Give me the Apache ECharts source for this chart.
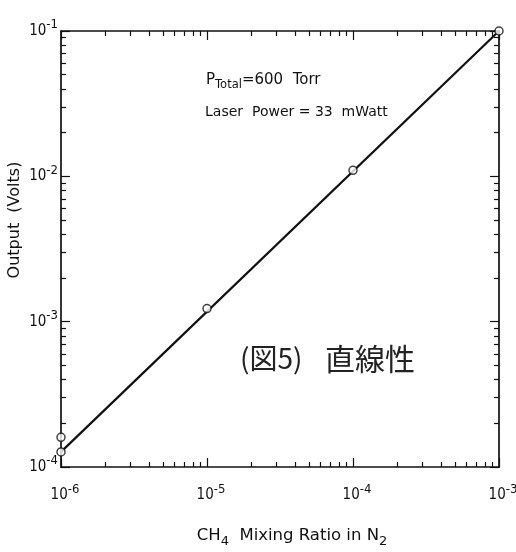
<!DOCTYPE html>
<html><head><meta charset="utf-8">
<script src="https://cdn.jsdelivr.net/npm/echarts@6/dist/echarts.min.js"></script>
<style>html,body{margin:0;padding:0;background:#fff}#c{width:516px;height:552px}</style>
</head><body><div id="c"></div>
<script>
// ---- data ----
const xDecades = [1e-6, 1e-5, 1e-4, 1e-3];
const yDecades = [1e-4, 1e-3, 1e-2, 1e-1];
const minorMultipliers = [2, 3, 4, 5, 6, 7, 8, 9];
const mixingRatio = [1e-6, 1e-6, 1e-5, 1e-4, 1e-3];
const outputVolts = [1.27e-4, 1.6e-4, 1.23e-3, 1.1e-2, 1.0e-1];
const fitX = [1e-6, 1e-3];
const fitY = [1.27e-4, 1.0e-1];
const yTitle = 'Output  (Volts)';
const note1 = ['P', 'Total', '=600  Torr'];
const note2 = 'Laser  Power = 33  mWatt';
const handNoteA = '(図5)';
const handNoteB = '直線性';

function minorOf(decades) {
  const out = [];
  for (let i = 0; i < decades.length - 1; i++)
    for (const m of minorMultipliers) out.push(decades[i] * m);
  return out;
}
const xMinor = minorOf(xDecades);
const yMinor = minorOf(yDecades);

const FONT = 'DejaVu Sans';
const NARROW = "'Liberation Sans Narrow', 'DejaVu Sans Condensed', 'Liberation Sans', sans-serif";
const INK = '#111';
function fmtPow(v) {
  const e = Math.round(Math.log10(v));
  return '{b|10}{s|' + e + '}';
}
const richLbl = {
  b: { fontSize: 15, fontFamily: NARROW, color: INK },
  s: { fontSize: 13, fontFamily: NARROW, color: INK, padding: [0, 0, 12, 0] }
};

function mkAxis(kind, pos, ticks, len, withLine, withLabel, decades) {
  const isX = kind === 'x';
  const ax = {
    type: 'log', logBase: 10, position: pos,
    min: isX ? xDecades[0] : yDecades[0],
    max: isX ? xDecades[xDecades.length - 1] : yDecades[yDecades.length - 1],
    splitLine: { show: false },
    axisLine: { show: withLine, lineStyle: { color: INK, width: 1.7 } },
    axisTick: { show: true, inside: true, length: len, customValues: ticks,
                lineStyle: { color: INK, width: 1.2 } },
    axisLabel: { show: false },
    axisPointer: { show: false }
  };
  if (withLabel) {
    ax.axisLabel = {
      show: true, customValues: decades, formatter: fmtPow, rich: richLbl,
      margin: isX ? 16 : 3,
      padding: isX ? [0, 0, 0, 8] : 0
    };
  }
  return ax;
}

const option = {
  backgroundColor: '#fff',
  animation: false,
  grid: { left: 61, right: 17, top: 31, bottom: 85, outerBoundsMode: 'none', containLabel: false },
  xAxis: [
    Object.assign(mkAxis('x', 'bottom', xDecades, 9, true, true, xDecades), {
      name: '{n|CH}{sub|4}{n|  Mixing Ratio in N}{sub|2}',
      nameLocation: 'middle', nameGap: 56, nameMoveOverlap: false,
      nameTextStyle: { padding: [0, 0, 0, 24], rich: {
        n: { fontSize: 16.5, fontFamily: FONT, color: INK },
        sub: { fontSize: 13, fontFamily: FONT, color: INK, padding: [12, 0, 0, 0] }
      } }
    }),
    mkAxis('x', 'bottom', xMinor, 5, false, false),
    mkAxis('x', 'top', xDecades, 9, true, false),
    mkAxis('x', 'top', xMinor, 5, false, false)
  ],
  yAxis: [
    Object.assign(mkAxis('y', 'left', yDecades, 9, true, true, yDecades), {
      name: yTitle, nameLocation: 'middle', nameGap: 38, nameMoveOverlap: false,
      nameTextStyle: { fontSize: 16, fontFamily: FONT, color: INK, padding: [0, 0, 0, 58] }
    }),
    mkAxis('y', 'left', yMinor, 5, false, false),
    mkAxis('y', 'right', yDecades, 9, true, false),
    mkAxis('y', 'right', yMinor, 5, false, false)
  ],
  series: [
    {
      type: 'line', xAxisIndex: 0, yAxisIndex: 0,
      data: fitX.map((x, i) => [x, fitY[i]]),
      showSymbol: false, lineStyle: { color: INK, width: 2.2 }, z: 2
    },
    {
      type: 'scatter', xAxisIndex: 0, yAxisIndex: 0,
      data: mixingRatio.map((x, i) => [x, outputVolts[i]]),
      symbol: 'circle', symbolSize: 8,
      itemStyle: { color: '#fff', borderColor: INK, borderWidth: 1.5 }, z: 3
    }
  ],
  graphic: [
    { type: 'text', left: 206, top: 73, style: {
      text: '{p|' + note1[0] + '}{t|' + note1[1] + '}{p|' + note1[2] + '}',
      rich: {
        p: { fontSize: 15, fontFamily: FONT, fill: INK },
        t: { fontSize: 11.5, fontFamily: FONT, fill: INK, padding: [10, 0, 0, 0] }
      } } },
    { type: 'text', left: 205, top: 105, style: {
      text: note2, fontSize: 14, fontFamily: FONT, fill: INK } },
    { type: 'text', left: 240, top: 344, style: {
      text: handNoteA, fontSize: 28, fontFamily: 'Noto Sans CJK JP', fill: '#222' } },
    { type: 'text', left: 325, top: 344, style: {
      text: handNoteB, fontSize: 30, fontFamily: 'Noto Sans CJK JP', fill: '#222' } }
  ]
};
const chart = echarts.init(document.getElementById('c'), null, { renderer: 'canvas' });
chart.setOption(option);
</script></body></html>
